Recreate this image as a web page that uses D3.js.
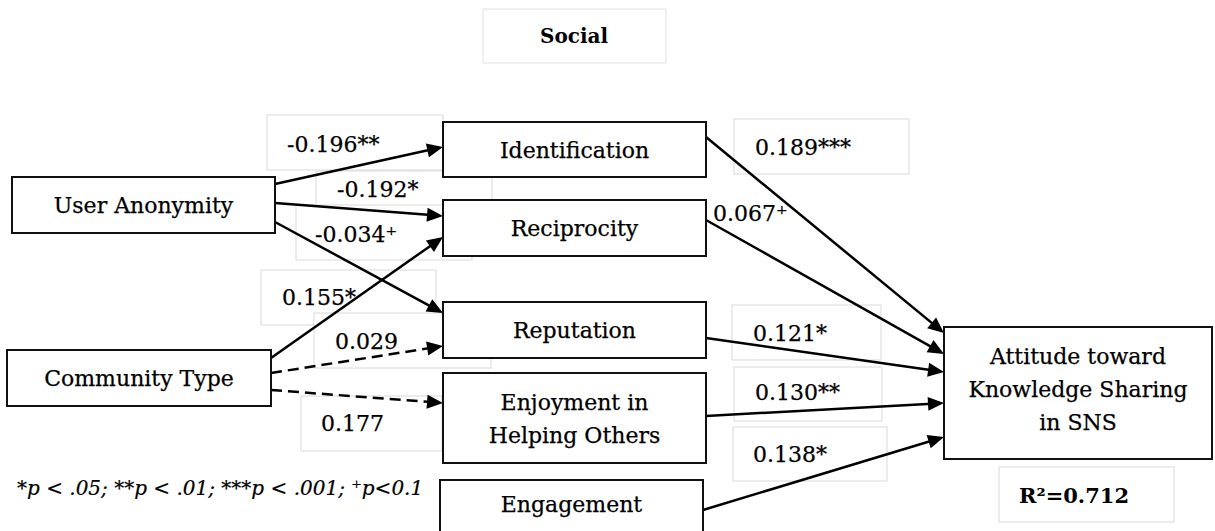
<!DOCTYPE html>
<html>
<head>
<meta charset="utf-8">
<script src="https://cdn.jsdelivr.net/npm/d3@7"></script>
<style>
  html, body { margin: 0; padding: 0; background: #fff; }
  svg { display: block; }
</style>
</head>
<body>
<svg id="diagram" width="1215" height="531"></svg>
<script>
// ---- data ----
const nodeIds   = ["ua", "ct", "ident", "recip", "rep", "enj", "eng", "att"];
const nodeNames = ["User Anonymity", "Community Type", "Identification", "Reciprocity",
                   "Reputation", "Enjoyment in\nHelping Others", "Engagement",
                   "Attitude toward\nKnowledge Sharing\nin SNS"];

const pathFrom  = ["ua", "ua", "ua", "ct", "ct", "ct", "ident", "recip", "rep", "enj", "eng"];
const pathTo    = ["ident", "recip", "rep", "recip", "rep", "enj", "att", "att", "att", "att", "att"];
const pathCoef  = ["-0.196**", "-0.192*", "-0.034\u207A", "0.155*", "0.029", "0.177",
                   "0.189***", "0.067\u207A", "0.121*", "0.130**", "0.138*"];
const pathSignificant = [true, true, true, true, false, false, true, true, true, true, true];

const titleText = "Social";
const r2Text = "R\u00B2=0.712";
const noteText = "*p < .05; **p < .01; ***p < .001; \u207Ap<0.1";

// ---- layout (diagram geometry) ----
const boxes = {
  ua:    { x0: 12,  y0: 177, x1: 275,  y1: 233 },
  ct:    { x0: 7,   y0: 350, x1: 271,  y1: 406 },
  ident: { x0: 443, y0: 122, x1: 706,  y1: 177 },
  recip: { x0: 443, y0: 200, x1: 706,  y1: 256 },
  rep:   { x0: 443, y0: 302, x1: 706,  y1: 358 },
  enj:   { x0: 443, y0: 373, x1: 706,  y1: 463 },
  eng:   { x0: 440, y0: 480, x1: 703,  y1: 545 },
  att:   { x0: 944, y0: 327, x1: 1212, y1: 459 }
};

// y where each path leaves its source and meets its target
const ports = [
  [184, 147], [203, 216], [222, 313], [358, 237], [373, 346], [390, 403],
  [137, 333], [220, 354], [338, 372], [416, 403], [510, 437]
];

// coefficient label frames (null = no frame) and text anchors
const labelFrames = [
  { x: 267, y: 115, w: 176, h: 55 }, { x: 316, y: 171, w: 176, h: 55 },
  { x: 296, y: 205, w: 176, h: 55 }, { x: 261, y: 270, w: 175, h: 55 },
  { x: 314, y: 313, w: 177, h: 55 }, { x: 301, y: 396, w: 141, h: 55 },
  { x: 734, y: 119, w: 175, h: 55 }, null,
  { x: 732, y: 305, w: 149, h: 55 }, { x: 734, y: 367, w: 148, h: 54 },
  { x: 733, y: 427, w: 154, h: 54 }
];
const labelPos = [
  [287, 152], [337, 197], [315, 242], [282, 305], [335, 349], [321, 431],
  [755, 155], [713, 221], [753, 341], [755, 400], [753, 462]
];

const FONT = "'DejaVu Serif', 'Liberation Serif', serif";
const INK = "#000";

const svg = d3.select("#diagram");

// title frame
const titleG = svg.append("g");
titleG.append("rect")
  .attr("x", 483).attr("y", 9).attr("width", 183).attr("height", 54)
  .attr("fill", "#fff").attr("stroke", "#e2e2e2").attr("stroke-width", 1);
titleG.append("text")
  .attr("x", 574).attr("y", 43)
  .attr("text-anchor", "middle")
  .attr("font-family", FONT).attr("font-weight", "bold").attr("font-size", 20)
  .attr("fill", INK)
  .text(titleText);

// label frames (white, overlapping in order)
const edges = pathFrom.map((f, i) => ({
  from: f, to: pathTo[i], coef: pathCoef[i], sig: pathSignificant[i],
  frame: labelFrames[i], pos: labelPos[i], port: ports[i]
}));

svg.append("g").selectAll("rect")
  .data(edges.filter(d => d.frame))
  .join("rect")
  .attr("x", d => d.frame.x).attr("y", d => d.frame.y)
  .attr("width", d => d.frame.w).attr("height", d => d.frame.h)
  .attr("fill", "#fff").attr("stroke", "#d9d9d9").attr("stroke-width", 1);

// coefficient texts
svg.append("g").selectAll("text")
  .data(edges)
  .join("text")
  .attr("x", d => d.pos[0]).attr("y", d => d.pos[1])
  .attr("font-family", FONT).attr("font-size", 22)
  .attr("fill", INK).attr("stroke", INK).attr("stroke-width", 0.25)
  .text(d => d.coef);

// paths (stop just inside the arrowhead)
const HEAD_LEN = 16, HEAD_HALF = 7;
function geom(d) {
  const x1 = boxes[d.from].x1, x2 = boxes[d.to].x0;
  const dx = x2 - x1, dy = d.port[1] - d.port[0];
  const L = Math.hypot(dx, dy);
  return { x1, y1: d.port[0], x2, y2: d.port[1], ux: dx / L, uy: dy / L };
}

svg.append("g").selectAll("line")
  .data(edges)
  .join("line")
  .attr("x1", d => geom(d).x1)
  .attr("y1", d => geom(d).y1)
  .attr("x2", d => { const g = geom(d); return g.x2 - g.ux * (HEAD_LEN - 4); })
  .attr("y2", d => { const g = geom(d); return g.y2 - g.uy * (HEAD_LEN - 4); })
  .attr("stroke", INK)
  .attr("stroke-width", 2.5)
  .attr("stroke-dasharray", d => d.sig ? null : "11,6");

// arrowheads, tip on the target box edge
svg.append("g").selectAll("path")
  .data(edges)
  .join("path")
  .attr("d", d => {
    const g = geom(d);
    const bx = g.x2 - g.ux * HEAD_LEN, by = g.y2 - g.uy * HEAD_LEN;
    return `M${g.x2},${g.y2} L${bx - g.uy * HEAD_HALF},${by + g.ux * HEAD_HALF} L${bx + g.uy * HEAD_HALF},${by - g.ux * HEAD_HALF} Z`;
  })
  .attr("fill", INK);

// node boxes
const nodes = nodeIds.map((id, i) => ({ id, name: nodeNames[i], b: boxes[id] }));
const nodeG = svg.append("g").selectAll("g")
  .data(nodes)
  .join("g");

nodeG.append("rect")
  .attr("x", d => d.b.x0).attr("y", d => d.b.y0)
  .attr("width", d => d.b.x1 - d.b.x0).attr("height", d => d.b.y1 - d.b.y0)
  .attr("fill", "#fff").attr("stroke", "#111").attr("stroke-width", 2);

nodeG.each(function(d) {
  const lines = d.name.split("\n");
  const lh = 33;
  const cx = (d.b.x0 + d.b.x1) / 2;
  let cy = (d.b.y0 + d.b.y1) / 2;
  if (d.id === "eng") cy = 504;   // box runs off the bottom edge
  if (d.id === "att") cy = 389;
  const t = d3.select(this).append("text")
    .attr("text-anchor", "middle")
    .attr("font-family", FONT).attr("font-size", 22)
    .attr("fill", INK).attr("stroke", INK).attr("stroke-width", 0.25);
  lines.forEach((ln, i) => {
    t.append("tspan")
      .attr("x", cx)
      .attr("y", cy + 8 + (i - (lines.length - 1) / 2) * lh)
      .text(ln);
  });
});

// R² frame
svg.append("rect")
  .attr("x", 999).attr("y", 467).attr("width", 175).attr("height", 55)
  .attr("fill", "#fff").attr("stroke", "#d9d9d9").attr("stroke-width", 1);
svg.append("text")
  .attr("x", 1019).attr("y", 503)
  .attr("font-family", FONT).attr("font-weight", "bold").attr("font-size", 21)
  .attr("fill", INK)
  .text(r2Text);

// significance note
svg.append("text")
  .attr("x", 17).attr("y", 495)
  .attr("font-family", FONT).attr("font-style", "italic").attr("font-size", 20)
  .attr("fill", INK).attr("stroke", INK).attr("stroke-width", 0.2)
  .text(noteText);
</script>
</body>
</html>
